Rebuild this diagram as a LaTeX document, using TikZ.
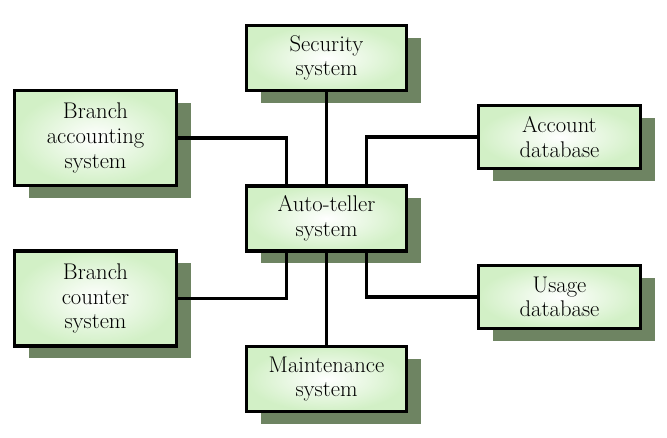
\documentclass[tikz,border=0pt]{standalone}
\usetikzlibrary{shadows}

\definecolor{boxgreen}{RGB}{210,240,198}
\definecolor{shadowgreen}{RGB}{110,132,98}

\begin{document}
\begin{tikzpicture}[x=0.75pt, y=-0.75pt, line width=2.4pt,
        box/.style={draw, rectangle, align=center, inner color=white, outer color=boxgreen,
            font=\fontsize{17}{18.5}\selectfont,
            drop shadow={shadow xshift=11pt, shadow yshift=-9pt, fill=shadowgreen, opacity=1}},
        midbox/.style={box, minimum width=120pt, minimum height=48.75pt},
        sidebox/.style={box, minimum width=121.5pt, minimum height=47.25pt}]
        \useasboundingbox (0,0) rectangle (667,437);

        % Auto-teller
        \node (auto) [midbox] at (326.5,218.5) {Auto-teller\\system};

        % Security and maintenance
        \node (security) [midbox] at (326.5,58) {Security\\system};
        \node (maint) [midbox] at (326.5,379) {Maintenance\\system};

        % Branch systems
        \node (bacct) [box, minimum width=121.5pt, minimum height=71.25pt] at (95.5,138) {Branch\\accounting\\system};
        \node (bcounter) [box, minimum width=121.5pt, minimum height=71.25pt] at (95.5,298.5) {Branch\\counter\\system};

        % Databases
        \node (acctdb) [sidebox] at (559.5,137) {Account\\database};
        \node (usage) [sidebox] at (559.5,297) {Usage\\database};

        % Links
        \draw (security) -- (auto);
        \draw (maint) -- (auto);
        \draw (bacct) -| ([xshift=-30pt]auto.north);
        \draw (acctdb) -| ([xshift=30pt]auto.north);
        \draw (bcounter) -| ([xshift=-30pt]auto.south);
        \draw (usage) -| ([xshift=30pt]auto.south);
    \end{tikzpicture}
\end{document}
